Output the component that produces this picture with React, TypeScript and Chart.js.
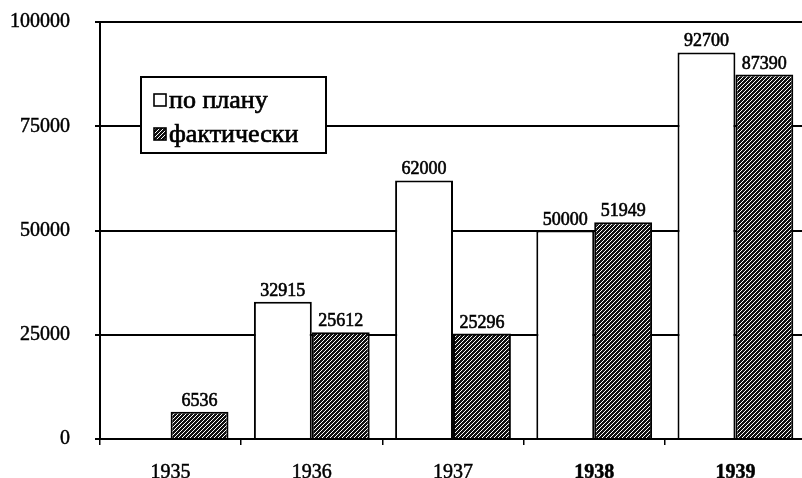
import React, { useEffect, useRef } from "react";
import { Chart, registerables } from "chart.js";

Chart.register(...registerables);

const years = ["1935", "1936", "1937", "1938", "1939"];
const planValues: (number | null)[] = [null, 32915, 62000, 50000, 92700];
const actualValues: (number | null)[] = [6536, 25612, 25296, 51949, 87390];
const yTickValues = [0, 25000, 50000, 75000, 100000];
const seriesNames = ["по плану", "фактически"];
const boldYears = ["1938", "1939"];

const FONT = "'Liberation Serif', 'Times New Roman', serif";

function makeHatch(): CanvasPattern | string {
  const s = 4;
  const c = document.createElement("canvas");
  c.width = s;
  c.height = s;
  const g = c.getContext("2d");
  if (!g) return "#444";
  g.fillStyle = "#111111";
  g.fillRect(0, 0, s, s);
  g.strokeStyle = "#ffffff";
  g.lineWidth = 1;
  g.beginPath();
  g.moveTo(0, s);
  g.lineTo(s, 0);
  g.moveTo(-1, 1);
  g.lineTo(1, -1);
  g.moveTo(s - 1, s + 1);
  g.lineTo(s + 1, s - 1);
  g.stroke();
  return g.createPattern(c, "repeat") || "#444";
}

export default function App() {
  const ref = useRef<HTMLCanvasElement | null>(null);

  useEffect(() => {
    if (!ref.current) return;
    const hatch = makeHatch();

    const valueLabels = {
      id: "valueLabels",
      afterDatasetsDraw(chart: any) {
        const ctx = chart.ctx;
        ctx.save();
        ctx.font = `18px ${FONT}`;
        ctx.fillStyle = "#000";
        ctx.strokeStyle = "#000";
        ctx.lineWidth = 0.6;
        ctx.textAlign = "center";
        ctx.textBaseline = "alphabetic";
        chart.data.datasets.forEach((ds: any, di: number) => {
          const meta = chart.getDatasetMeta(di);
          meta.data.forEach((bar: any, i: number) => {
            const v = ds.data[i];
            if (v == null) return;
            ctx.fillText(String(v), bar.x, bar.y - 6);
            ctx.strokeText(String(v), bar.x, bar.y - 6);
          });
        });
        ctx.restore();
      },
    };

    const legendBox = {
      id: "legendBox",
      afterDatasetsDraw(chart: any) {
        const ctx = chart.ctx;
        const a = chart.chartArea;
        const x = a.left + 41;
        const y = a.top + 55;
        const w = 185;
        const h = 76;
        ctx.save();
        ctx.fillStyle = "#fff";
        ctx.fillRect(x, y, w, h);
        ctx.strokeStyle = "#000";
        ctx.lineWidth = 2;
        ctx.strokeRect(x, y, w, h);
        const fills = ["#ffffff", hatch];
        ctx.font = `26px ${FONT}`;
        ctx.textAlign = "left";
        ctx.textBaseline = "alphabetic";
        seriesNames.forEach((name, i) => {
          const sy = y + 17 + i * 34;
          ctx.fillStyle = fills[i] as any;
          ctx.fillRect(x + 13, sy, 12, 12);
          ctx.lineWidth = 1.6;
          ctx.strokeStyle = "#000";
          ctx.strokeRect(x + 13, sy, 12, 12);
          ctx.fillStyle = "#000";
          ctx.lineWidth = 0.7;
          ctx.fillText(name, x + 28, sy + 14);
          ctx.strokeText(name, x + 28, sy + 14);
        });
        ctx.restore();
      },
    };

    const chart = new Chart(ref.current, {
      type: "bar",
      data: {
        labels: years,
        datasets: [
          {
            label: seriesNames[0],
            data: planValues,
            backgroundColor: "#ffffff",
            borderColor: "#000000",
            borderWidth: 2,
            categoryPercentage: 0.82,
            barPercentage: 1.0,
          },
          {
            label: seriesNames[1],
            data: actualValues,
            backgroundColor: hatch as any,
            borderColor: "#000000",
            borderWidth: 2,
            categoryPercentage: 0.82,
            barPercentage: 1.0,
          },
        ],
      },
      options: {
        animation: false,
        responsive: false,
        devicePixelRatio: 1,
        layout: { padding: { top: 22, left: 0, right: 0, bottom: 0 } },
        plugins: {
          legend: { display: false },
          tooltip: { enabled: false },
          title: { display: false },
        },
        scales: {
          x: {
            afterFit: (scale: any) => {
              scale.height = 39;
              scale.paddingLeft = 0;
              scale.paddingRight = 0;
            },
            grid: {
              drawOnChartArea: false,
              drawTicks: true,
              tickLength: 6,
              color: "#000",
              lineWidth: 1.5,
            },
            border: { display: true, color: "#000", width: 2 },
            ticks: {
              color: "#000",
              padding: 16,
              textStrokeColor: "#000",
              textStrokeWidth: 0.5,
              font: (ctx: any) => ({
                family: FONT,
                size: 20,
                weight: boldYears.includes(years[ctx.index]) ? "bold" : "normal",
              }),
            },
          },
          y: {
            min: 0,
            max: 100000,
            afterFit: (scale: any) => {
              scale.width = 100;
              scale.paddingTop = 0;
              scale.paddingBottom = 0;
            },
            afterBuildTicks: (scale: any) => {
              scale.ticks = yTickValues.map((v) => ({ value: v }));
            },
            grid: {
              drawOnChartArea: true,
              drawTicks: true,
              tickLength: 5,
              color: "#000",
              lineWidth: 2,
            },
            border: { display: true, color: "#000", width: 2 },
            ticks: {
              color: "#000",
              padding: 25,
              textStrokeColor: "#000",
              textStrokeWidth: 0.5,
              font: { family: FONT, size: 20 },
              callback: (v: any) => String(v),
            },
          },
        },
      },
      plugins: [valueLabels, legendBox],
    });

    return () => chart.destroy();
  }, []);

  return (
    <div
      style={{
        position: "fixed",
        left: 0,
        top: 0,
        width: 806,
        height: 478,
        overflow: "hidden",
        background: "#fff",
      }}
    >
      <canvas ref={ref} width={806} height={478} style={{ display: "block" }} />
    </div>
  );
}
